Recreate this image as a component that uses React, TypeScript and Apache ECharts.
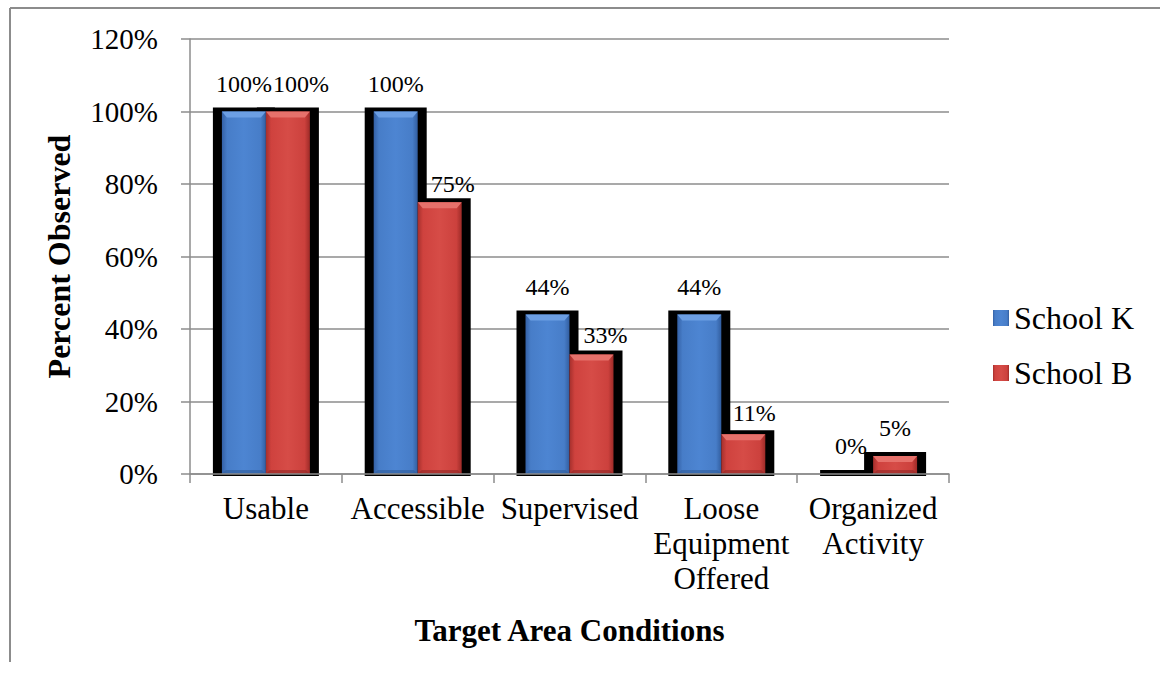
import React, { useEffect, useRef } from "react";
import * as echarts from "echarts";

const categories = ["Usable", "Accessible", "Supervised", "Loose\nEquipment\nOffered", "Organized\nActivity"];
const schoolK = [100, 100, 44, 44, 0];
const schoolB = [100, 75, 33, 11, 5];
const yTicks = { min: 0, max: 120, interval: 20 };

// label nudges (style) for School B labels that Excel moved sideways
const B_LABEL_OFFSET: number[][] = [[13, 0], [13, 10], [14, 9], [11, 7], [0, 0]];

const FONT = "Liberation Serif";
const BAR_W = 44;

const blueFill = new echarts.graphic.LinearGradient(0, 0, 1, 0, [
  { offset: 0, color: "#3461a6" },
  { offset: 0.12, color: "#477dc8" },
  { offset: 0.5, color: "#4d85d2" },
  { offset: 0.88, color: "#477dc8" },
  { offset: 1, color: "#325ea0" },
]);
const redFill = new echarts.graphic.LinearGradient(0, 0, 1, 0, [
  { offset: 0, color: "#a52f2c" },
  { offset: 0.12, color: "#cf423e" },
  { offset: 0.5, color: "#d64c47" },
  { offset: 0.88, color: "#cc413d" },
  { offset: 1, color: "#9e2b28" },
]);

export default function App() {
  const ref = useRef<HTMLDivElement>(null);
  useEffect(() => {
    if (!ref.current) return;
    const chart = echarts.init(ref.current, null, { renderer: "svg" });
    const shadowData = categories.map((_, i) => [i, schoolK[i], schoolB[i]]);

    const shadowRender = (params: any, api: any) => {
      const i = api.value(0);
      const vK = api.value(1);
      const vB = api.value(2);
      const base = api.coord([i, 0]);
      const cx = base[0];
      const y0 = base[1];
      const yK = api.coord([i, vK])[1];
      const yB = api.coord([i, vB])[1];
      return {
        type: "group",
        children: [
          { type: "rect", shape: { x: cx - BAR_W - 9, y: yK - 4, width: BAR_W + 18, height: y0 - yK + 6 }, style: { fill: "#000" } },
          { type: "rect", shape: { x: cx - 9, y: yB - 4, width: BAR_W + 18, height: y0 - yB + 6 }, style: { fill: "#000" } },
        ],
      };
    };

    const bevelRender = (params: any, api: any) => {
      const i = api.value(0);
      const vK = api.value(1);
      const vB = api.value(2);
      const base = api.coord([i, 0]);
      const cx = base[0];
      const y0 = base[1];
      const children: any[] = [];
      const add = (x0: number, yt: number, light: string, dark: string) => {
        const h = y0 - yt;
        if (h < 2) return;
        const b = Math.min(6, h / 2);
        const x1 = x0 + BAR_W;
        children.push({
          type: "polygon",
          shape: { points: [[x0, yt], [x1, yt], [x1 - 5, yt + b], [x0 + 5, yt + b]] },
          style: { fill: light },
        });
        children.push({
          type: "polygon",
          shape: { points: [[x0, y0], [x1, y0], [x1 - 4, y0 - Math.min(4, b)], [x0 + 4, y0 - Math.min(4, b)]] },
          style: { fill: dark, opacity: 0.6 },
        });
      };
      add(cx - BAR_W, api.coord([i, vK])[1], "#6c9fe4", "#2f5b99");
      add(cx, api.coord([i, vB])[1], "#e6716b", "#8f2724");
      return { type: "group", children };
    };

    const labelBase = {
      show: true,
      position: "top",
      distance: 16,
      fontSize: 24,
      fontFamily: FONT,
      color: "#000",
      formatter: "{c}%",
    };

    chart.setOption({
      animation: false,
      backgroundColor: "#fff",
      textStyle: { fontFamily: FONT },
      grid: { left: 190, right: 211, top: 39, bottom: 201 },
      legend: {
        orient: "vertical",
        left: 988,
        top: 297,
        itemWidth: 16,
        itemHeight: 16,
        itemGap: 23,
        icon: "rect",
        data: ["School K", "School B"],
        textStyle: { fontSize: 32, fontFamily: FONT, color: "#000" },
      },
      xAxis: {
        type: "category",
        data: categories,
        z: 3,
        name: "Target Area Conditions",
        nameLocation: "middle",
        nameGap: 141,
        nameTextStyle: { fontSize: 31, fontWeight: "bold", fontFamily: FONT, color: "#000" },
        axisLine: { lineStyle: { color: "#8c8c8c", width: 1.5 } },
        axisTick: { show: true, alignWithLabel: false, length: 9, lineStyle: { color: "#8c8c8c", width: 1.5 } },
        axisLabel: { fontSize: 31, fontFamily: FONT, color: "#000", margin: 17, lineHeight: 35, interval: 0 },
      },
      yAxis: {
        type: "value",
        min: yTicks.min,
        max: yTicks.max,
        interval: yTicks.interval,
        name: "Percent Observed",
        nameLocation: "middle",
        nameGap: 115,
        nameTextStyle: { fontSize: 32, fontWeight: "bold", fontFamily: FONT, color: "#000" },
        axisLine: { show: true, lineStyle: { color: "#8c8c8c", width: 1.5 } },
        axisTick: { show: true, length: 9, lineStyle: { color: "#8c8c8c", width: 1.5 } },
        splitLine: { show: true, lineStyle: { color: "#8c8c8c", width: 1.5 } },
        axisLabel: { fontSize: 29, fontFamily: FONT, color: "#000", margin: 32, formatter: "{value}%" },
      },
      graphic: [
        { type: "line", shape: { x1: 10, y1: 8, x2: 1160, y2: 8 }, style: { stroke: "#8c8c8c", lineWidth: 2 } },
        { type: "line", shape: { x1: 10, y1: 8, x2: 10, y2: 662 }, style: { stroke: "#8c8c8c", lineWidth: 2 } },
      ],
      series: [
        {
          type: "custom",
          name: "shadow",
          z: 1,
          renderItem: shadowRender,
          data: shadowData,
          encode: { x: 0, y: 1 },
          silent: true,
        },
        {
          type: "bar",
          name: "School K",
          z: 2,
          barWidth: BAR_W,
          barGap: "0%",
          data: schoolK,
          itemStyle: { color: blueFill },
          label: labelBase,
        },
        {
          type: "bar",
          name: "School B",
          z: 2,
          barWidth: BAR_W,
          barGap: "0%",
          data: schoolB.map((v, i) => ({ value: v, label: { offset: B_LABEL_OFFSET[i] } })),
          itemStyle: { color: redFill },
          label: labelBase,
        },
        {
          type: "custom",
          name: "bevel",
          z: 2.5,
          renderItem: bevelRender,
          data: shadowData,
          encode: { x: 0, y: 1 },
          silent: true,
        },
      ],
    });
    return () => chart.dispose();
  }, []);
  return <div ref={ref} style={{ position: "absolute", left: 0, top: 0, width: 1160, height: 675 }} />;
}
